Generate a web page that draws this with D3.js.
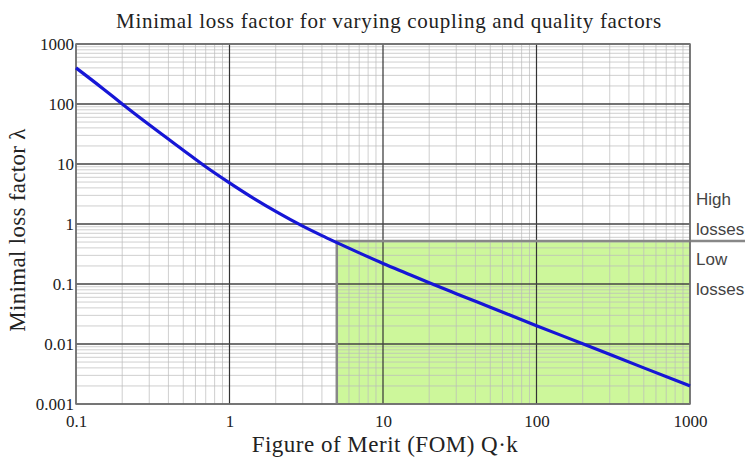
<!DOCTYPE html>
<meta charset="utf-8">
<style>
body { margin: 0; background: #fff; }
text { font-family: "Liberation Serif", "Times New Roman", serif; fill: #222; }
.note { font-family: "Liberation Sans", Arial, sans-serif; font-size: 17px; fill: #444; }
</style>
<body>
<script src="https://cdn.jsdelivr.net/npm/d3@7"></script>
<script>

var fom    = [0.1, 0.15, 0.2, 0.3, 0.5, 0.7, 1, 1.5, 2, 3, 4, 5, 7, 10, 15, 20, 30, 50, 100, 200, 500, 1000];
var lambda = [400, 180, 100, 45, 17, 9, 4.85, 2.5, 1.62, 0.92, 0.64, 0.49, 0.33, 0.22, 0.143, 0.105, 0.069, 0.041, 0.0202, 0.0101, 0.004, 0.002];
var xTicks = [0.1, 1, 10, 100, 1000];
var yTicks = [0.001, 0.01, 0.1, 1, 10, 100, 1000];
var lowStart = 5, lowLimit = 0.52;

var width = 750, height = 463;
var m = {left: 76, right: 690, top: 44, bottom: 404};

var svg = d3.select("body").append("svg")
    .attr("width", width)
    .attr("height", height);

var x = d3.scaleLog().domain([0.1, 1000]).range([m.left, m.right]);
var y = d3.scaleLog().domain([0.001, 1000]).range([m.bottom, m.top]);

// minor values 2..9 in each decade
function minors(lo, hi) {
  var out = [];
  for (var d = lo; d < hi * 0.99; d *= 10)
    for (var k = 2; k <= 9; k++) out.push(d * k);
  return out;
}

// low-loss region
svg.append("rect")
    .attr("x", x(lowStart))
    .attr("y", y(lowLimit))
    .attr("width", x(1000) - x(lowStart))
    .attr("height", y(0.001) - y(lowLimit))
    .attr("fill", "#cdf79b");

var grid = svg.append("g");

grid.selectAll(".vminor").data(minors(0.1, 1000)).enter().append("line")
    .attr("x1", function(d) { return x(d); })
    .attr("x2", function(d) { return x(d); })
    .attr("y1", m.top).attr("y2", m.bottom)
    .attr("stroke", "#bbb").attr("stroke-opacity", 0.7).attr("stroke-width", 1);

grid.selectAll(".hminor").data(minors(0.001, 1000)).enter().append("line")
    .attr("y1", function(d) { return y(d); })
    .attr("y2", function(d) { return y(d); })
    .attr("x1", m.left).attr("x2", m.right)
    .attr("stroke", "#bbb").attr("stroke-opacity", 0.7).attr("stroke-width", 1);

grid.selectAll(".vmajor").data(xTicks).enter().append("line")
    .attr("x1", function(d) { return x(d); })
    .attr("x2", function(d) { return x(d); })
    .attr("y1", m.top).attr("y2", m.bottom)
    .attr("stroke", "#333").attr("stroke-width", 1.2);

grid.selectAll(".hmajor").data(yTicks).enter().append("line")
    .attr("y1", function(d) { return y(d); })
    .attr("y2", function(d) { return y(d); })
    .attr("x1", m.left).attr("x2", m.right)
    .attr("stroke", "#444").attr("stroke-width", 1.4);

// outline of low-loss region
svg.append("path")
    .attr("d", "M" + x(lowStart) + "," + y(0.001) + "V" + y(lowLimit) + "H" + (x(1000) + 55))
    .attr("fill", "none")
    .attr("stroke", "#888")
    .attr("stroke-width", 2.5);

// frame
svg.append("rect")
    .attr("x", m.left).attr("y", m.top)
    .attr("width", m.right - m.left).attr("height", m.bottom - m.top)
    .attr("fill", "none").attr("stroke", "#777").attr("stroke-width", 1.5);

// axes (labels only)
var xAxis = svg.append("g")
    .attr("transform", "translate(0," + m.bottom + ")")
    .call(d3.axisBottom(x).tickValues(xTicks).tickFormat(d3.format("~g")).tickSize(0).tickPadding(11));
xAxis.select(".domain").remove();

var yAxis = svg.append("g")
    .attr("transform", "translate(" + m.left + ",0)")
    .call(d3.axisLeft(y).tickValues(yTicks).tickFormat(d3.format("~g")).tickSize(0).tickPadding(2));
yAxis.select(".domain").remove();

svg.selectAll(".tick text")
    .attr("fill", "#333")
    .style("font-family", "Liberation Serif, serif")
    .style("font-size", "17px");

// curve
var line = d3.line()
    .x(function(d, i) { return x(fom[i]); })
    .y(function(d) { return y(d); })
    .curve(d3.curveMonotoneX);

svg.append("path")
    .datum(lambda)
    .attr("d", line)
    .attr("fill", "none")
    .attr("stroke", "#1616d6")
    .attr("stroke-width", 3.2);

// titles
svg.append("text")
    .attr("x", 389).attr("y", 28)
    .attr("text-anchor", "middle")
    .style("font-size", "21px")
    .style("letter-spacing", "0.7px")
    .text("Minimal loss factor for varying coupling and quality factors");

svg.append("text")
    .attr("x", 385).attr("y", 452)
    .attr("text-anchor", "middle")
    .style("font-size", "23px")
    .style("letter-spacing", "0.5px")
    .text("Figure of Merit (FOM) Q\u00b7k");

svg.append("text")
    .attr("transform", "translate(25,230) rotate(-90)")
    .attr("text-anchor", "middle")
    .style("font-size", "23px")
    .style("letter-spacing", "0.3px")
    .text("Minimal loss factor \u03bb");

// side notes
var notes = [["High", 205], ["losses", 235], ["Low", 265], ["losses", 295]];
svg.selectAll(".note").data(notes).enter().append("text")
    .attr("class", "note")
    .attr("x", 696)
    .attr("y", function(d) { return d[1]; })
    .text(function(d) { return d[0]; });
</script>
</body>
